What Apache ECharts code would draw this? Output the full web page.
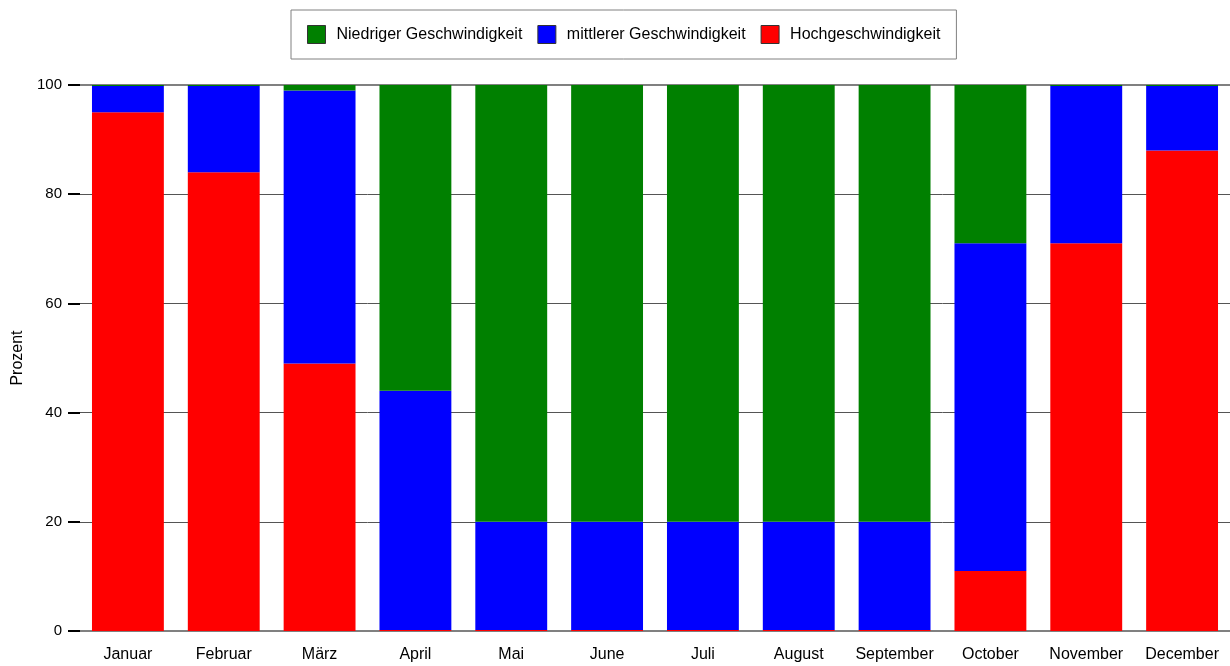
<!DOCTYPE html>
<html>
<head>
<meta charset="utf-8">
<script src="https://cdn.jsdelivr.net/npm/echarts@6/dist/echarts.min.js"></script>
<style>
html,body{margin:0;padding:0;background:#fff;}
#chart{width:1230px;height:666px;}
</style>
</head>
<body>
<div id="chart"></div>
<script>
var categories = ['Januar','Februar','März','April','Mai','June','Juli','August','September','October','November','December'];
var hoch = [95, 84, 49, 0.2, 0.2, 0.2, 0.2, 0.2, 0.2, 11, 71, 88];
var mittel = [4.8, 15.8, 50, 43.8, 19.8, 19.8, 19.8, 19.8, 19.8, 60, 28.8, 11.8];
var niedrig = [0.2, 0.2, 1, 56, 80, 80, 80, 80, 80, 29, 0.2, 0.2];
var yTicks = [0, 20, 40, 60, 80, 100];

var FONT = 'Liberation Sans, Arial, Helvetica, sans-serif';
var chart = echarts.init(document.getElementById('chart'));
chart.setOption({
  animation: false,
  backgroundColor: '#fff',
  textStyle: { fontFamily: FONT },
  legend: {
    left: 291, top: 10,
    padding: [15, 16, 15, 16],
    itemWidth: 18, itemHeight: 18, itemGap: 15,
    borderColor: '#808080', borderWidth: 1,
    icon: 'rect',
    itemStyle: { borderColor: '#333', borderWidth: 1 },
    textStyle: { fontFamily: FONT, fontSize: 16, color: '#000', padding: [0, 0, 0, 6] },
    data: ['Niedriger Geschwindigkeit', 'mittlerer Geschwindigkeit', 'Hochgeschwindigkeit']
  },
  grid: { left: 80, top: 85, width: 1152, height: 546, containLabel: false },
  xAxis: [{
    type: 'category',
    data: categories,
    position: 'bottom',
    axisLine: { show: true, lineStyle: { color: '#808080', width: 2 } },
    axisTick: { show: false },
    axisLabel: { color: '#000', fontSize: 16, fontFamily: FONT, margin: 16, interval: 0 }
  }, {
    type: 'category',
    data: categories,
    position: 'top',
    axisLine: { show: true, lineStyle: { color: '#808080', width: 2 } },
    axisTick: { show: false },
    axisLabel: { show: false }
  }],
  yAxis: {
    type: 'value',
    min: yTicks[0], max: yTicks[yTicks.length - 1], interval: 20,
    name: 'Prozent',
    nameLocation: 'middle',
    nameGap: 52,
    nameRotate: 90,
    nameTextStyle: { color: '#000', fontSize: 16, fontFamily: FONT },
    axisLine: { show: false },
    axisTick: { show: true, length: 12, lineStyle: { color: '#000', width: 2 } },
    axisLabel: { color: '#000', fontSize: 15, fontFamily: FONT, margin: 18 },
    splitLine: { show: true, lineStyle: { color: '#555', width: 1 } }
  },
  series: [
    { name: 'Hochgeschwindigkeit', type: 'bar', stack: 's', data: hoch, barCategoryGap: '25%', itemStyle: { color: '#ff0000' } },
    { name: 'mittlerer Geschwindigkeit', type: 'bar', stack: 's', data: mittel, barCategoryGap: '25%', itemStyle: { color: '#0000ff' } },
    { name: 'Niedriger Geschwindigkeit', type: 'bar', stack: 's', data: niedrig, barCategoryGap: '25%', itemStyle: { color: '#008000' } }
  ]
});
</script>
</body>
</html>
